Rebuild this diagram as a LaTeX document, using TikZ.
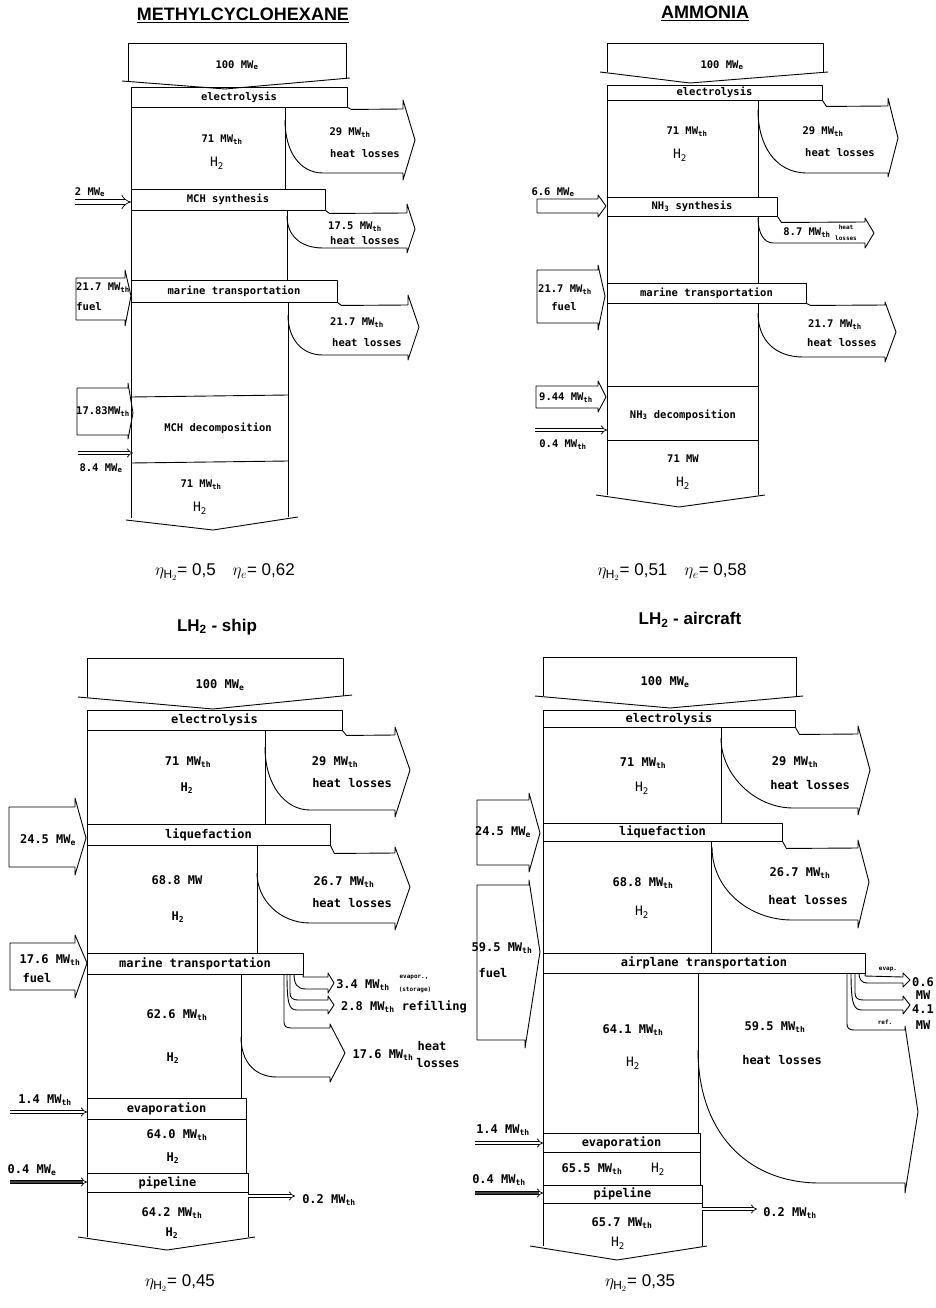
\documentclass[tikz,border=0pt]{standalone}
\usepackage{fontspec}
\setmainfont{Liberation Sans}
\setmonofont{DejaVu Sans Mono}
\usetikzlibrary{arrows.meta}

\begin{document}
\begin{tikzpicture}[x=1pt, y=-1pt, line width=0.9pt, line join=round,
    txt/.style={font=\fontsize{10.5}{12}\selectfont\ttfamily\bfseries, inner sep=0pt},
    tiny/.style={font=\fontsize{6}{7}\selectfont\ttfamily\bfseries, inner sep=0pt},
    htwo/.style={font=\fontsize{13}{14}\selectfont\ttfamily, inner sep=0pt},
    ttl/.style={font=\fontsize{18}{20}\selectfont\bfseries},
    eff/.style={font=\fontsize{17}{19}\selectfont},
    bar/.style={draw, txt, inner sep=0pt},
    pipe/.style={double, double distance=2.4pt, line width=0.7pt, -{Implies}},
    darkpipe/.style={pipe, double=black!75}
  ]
  \useasboundingbox (0,0) rectangle (935,1308);

  %% methylcyclohexane
  \node[ttl] (mttl) at (243,15) {\underline{METHYLCYCLOHEXANE}};
  \draw (122,81) -- (225,89) -- (350,78);
  \draw (128,81) -- (128,43) -- (346,43) -- (346,79);
  \node[txt] (min) at (237,65) {100 MW\textsubscript{e}};
  \node[bar, minimum width=216, minimum height=20] (mel) at (239,97) {electrolysis};
  \draw (131,107) -- (131,518);
  \draw (285,107) -- (285,189);
  \draw (287,210) -- (287,280);
  \draw (288,302) -- (288,517);
  \draw (mel.south east) -- ++(4,2) -- (403,109) -- (403,100) -- (415,140) -- (403,180)
    -- (403,173) -- (323,173) .. controls (300,173) and (285,152) .. (285,120);
  \node[txt] (mh1) at (222,140) {71 MW\textsubscript{th}};
  \node[htwo] (mh1b) at (217,163) {H\textsubscript{2}};
  \node[txt] (ml1) at (350,133) {29 MW\textsubscript{th}};
  \node[txt] (ml1b) at (365,154) {heat losses};
  \node[txt] (me1) at (90,192) {2 MW\textsubscript{e}};
  \draw[pipe, double distance=4.5pt] (75,202) -- (131,202);
  \node[bar, minimum width=194, minimum height=21] (msyn) at (228,199.5) {MCH synthesis};
  \draw (msyn.south east) -- ++(4,3) -- (407,213) -- (407,204) -- (415,229) -- (407,253)
    -- (407,248) -- (323,248) .. controls (300,248) and (287,235) .. (287,216);
  \node[txt] (ml2) at (355,227) {17.5 MW\textsubscript{th}};
  \node[txt] (ml2b) at (365,241) {heat losses};
  \draw (125,278) -- (76,278) -- (76,320) -- (125,320) -- (125,326) -- (131,296) -- (125,270) -- cycle;
  \node[txt] (mf) at (103,288) {21.7 MW\textsubscript{th}};
  \node[txt] (mfb) at (89,307) {fuel};
  \node[bar, minimum width=206, minimum height=22] (mmar) at (234,291) {marine transportation};
  \draw (mmar.south east) -- ++(4,3) -- (408,305) -- (408,295) -- (419,327) -- (408,360)
    -- (408,355) -- (323,355) .. controls (300,355) and (288,337) .. (288,315);
  \node[txt] (ml3) at (357,323) {21.7 MW\textsubscript{th}};
  \node[txt] (ml3b) at (367,343) {heat losses};
  \draw (128,388) -- (77,388) -- (77,435) -- (128,435) -- (128,439) -- (133,413) -- (128,383) -- cycle;
  \node[txt] (mq) at (103,412) {17.83MW\textsubscript{th}};
  \draw (131,397) -- (288,395);
  \draw (131,463) -- (288,461);
  \node[txt] (mdec) at (218,428) {MCH decomposition};
  \draw[pipe] (78,453) -- (133,453);
  \node[txt] (me2) at (101,468) {8.4 MW\textsubscript{e}};
  \node[txt] (mout) at (201,485) {71 MW\textsubscript{th}};
  \node[htwo] (moutb) at (200,508) {H\textsubscript{2}};
  \draw (126,520) -- (213,530) -- (298,517);
  \node[eff] (meff) at (225,572) {$\eta_{\mathrm{H}_2}$= 0,5\quad $\eta_e$= 0,62};

  %% ammonia
  \node[ttl] (attl) at (705,13) {\underline{AMMONIA}};
  \draw (600,72) -- (690,83) -- (828,72);
  \draw (607,72) -- (607,43) -- (823,43) -- (823,72);
  \node[txt] (ain) at (722,65) {100 MW\textsubscript{e}};
  \node[bar, minimum width=215, minimum height=15] (ael) at (714.5,92.5) {electrolysis};
  \draw (607,100) -- (607,495);
  \draw (758,100) -- (758,197);
  \draw (758,216) -- (758,283);
  \draw (758,303) -- (758,495);
  \draw (ael.south east) -- ++(4,6) -- (888,106) -- (888,98) -- (898,138) -- (888,177)
    -- (888,173) -- (807,173) .. controls (775,173) and (758,145) .. (758,110);
  \node[txt] (ah1) at (687,132) {71 MW\textsubscript{th}};
  \node[htwo] (ah1b) at (680,155) {H\textsubscript{2}};
  \node[txt] (al1) at (823,132) {29 MW\textsubscript{th}};
  \node[txt] (al1b) at (840,153) {heat losses};
  \node[txt] (ae1) at (553,192) {6.6 MW\textsubscript{e}};
  \draw (598,199) -- (537,199) -- (537,213) -- (598,213) -- (598,217) -- (606,206) -- (598,195) -- cycle;
  \node[bar, minimum width=170, minimum height=19] (asyn) at (692,206.5) {NH\textsubscript{3} synthesis};
  \draw (asyn.south east) -- ++(4,6) -- (865,222) -- (865,218) -- (874,233) -- (865,248)
    -- (865,243) -- (773,243) .. controls (764,243) and (758,233) .. (758,218);
  \node[txt] (al2) at (807,233) {8.7 MW\textsubscript{th}};
  \node[tiny] (al2b) at (846,227) {heat};
  \node[tiny] (al2c) at (846,238) {losses};
  \draw (598,270) -- (537,270) -- (537,323) -- (598,323) -- (598,330) -- (605,296) -- (598,265) -- cycle;
  \node[txt] (af) at (565,290) {21.7 MW\textsubscript{th}};
  \node[txt] (afb) at (564,307) {fuel};
  \node[bar, minimum width=199, minimum height=20] (amar) at (706.5,293) {marine transportation};
  \draw (amar.south east) -- ++(4,2) -- (885,305) -- (885,302) -- (896,332) -- (885,362)
    -- (885,357) -- (803,357) .. controls (775,357) and (758,340) .. (758,313);
  \node[txt] (al3) at (835,325) {21.7 MW\textsubscript{th}};
  \node[txt] (al3b) at (842,343) {heat losses};
  \draw (607,386) -- (758,386);
  \draw (607,440) -- (758,440);
  \draw (598,386) -- (536,386) -- (536,408) -- (598,408) -- (598,412) -- (606,397) -- (598,381) -- cycle;
  \node[txt] (aq) at (566,398) {9.44 MW\textsubscript{th}};
  \draw[pipe] (535,430) -- (607,430);
  \node[txt] (ae2) at (563,445) {0.4 MW\textsubscript{th}};
  \node[txt] (adec) at (683,415) {NH\textsubscript{3} decomposition};
  \node[txt] (aout) at (683,459) {71 MW};
  \node[htwo] (aoutb) at (683,483) {H\textsubscript{2}};
  \draw (596,495) -- (679,507) -- (765,495);
  \node[eff] (aeff) at (672,572) {$\eta_{\mathrm{H}_2}$= 0,51\quad $\eta_e$= 0,58};

  %% LH2 ship
  \begin{scope}[txt/.style={font=\fontsize{12}{13}\selectfont\ttfamily\bfseries, inner sep=0pt}]
  \node[eff, font=\fontsize{17}{19}\selectfont\bfseries] (sttl) at (217,627) {LH\textsubscript{2} - ship};
  \draw (78,697) -- (213,709) -- (352,695);
  \draw (87,697) -- (87,658) -- (343,658) -- (343,696);
  \node[txt] (sin) at (220,685) {100 MW\textsubscript{e}};
  \node[bar, minimum width=255, minimum height=20] (sel) at (214.5,720) {electrolysis};
  \draw (87,730) -- (87,1237);
  \draw (265,730) -- (265,824);
  \draw (257,845) -- (257,953);
  \draw (241,974) -- (241,1098);
  \draw (246,1119) -- (246,1173);
  \draw (248,1192) -- (248,1237);
  \draw (sel.south east) -- ++(4,5) -- (395,735) -- (395,727) -- (410,770) -- (395,817)
    -- (395,810) -- (310,810) .. controls (285,810) and (265,785) .. (265,747);
  \node[txt] (sh1) at (188,762) {71 MW\textsubscript{th}};
  \node[txt] (sh1b) at (187,788) {H\textsubscript{2}};
  \node[txt] (sl1) at (335,762) {29 MW\textsubscript{th}};
  \node[txt] (sl1b) at (352,783) {heat losses};
  \draw (75,807) -- (9,807) -- (9,867) -- (75,867) -- (75,875) -- (86,838) -- (75,798) -- cycle;
  \node[txt] (se1) at (48,840) {24.5 MW\textsubscript{e}};
  \node[bar, minimum width=243, minimum height=21] (sliq) at (208.5,834.5) {liquefaction};
  \draw (sliq.south east) -- ++(4,8) -- (395,853) -- (395,847) -- (410,887) -- (395,930)
    -- (395,923) -- (310,923) .. controls (280,923) and (257,900) .. (257,873);
  \node[txt] (sh2) at (177,880) {68.8 MW};
  \node[txt] (sh2b) at (178,917) {H\textsubscript{2}};
  \node[txt] (sl2) at (344,882) {26.7 MW\textsubscript{th}};
  \node[txt] (sl2b) at (352,903) {heat losses};
  \draw (75,943) -- (10,943) -- (10,990) -- (75,990) -- (75,998) -- (87,963) -- (75,935) -- cycle;
  \node[txt] (sf) at (50,960) {17.6 MW\textsubscript{th}};
  \node[txt] (sfb) at (37,978) {fuel};
  \node[bar, minimum width=216, minimum height=21] (smar) at (195,963.5) {marine transportation};
  \draw (smar.south east) -- (303,977) -- (328,977) -- (328,973) -- (334,983) -- (328,993)
    -- (328,989) -- (306,989) .. controls (297,989) and (294,984) .. (294,974);
  \draw (290,974) -- (290,993) .. controls (290,998) and (293,1000) .. (298,1000) -- (328,1000)
    -- (328,996) -- (334,1005) -- (328,1014) -- (328,1010) -- (297,1010)
    .. controls (289,1010) and (287,1004) .. (287,974);
  \draw (284,974) -- (284,1022) .. controls (284,1026) and (286,1028) .. (291,1028) -- (330,1028)
    -- (330,1024) -- (345,1053) -- (330,1082) -- (330,1077) -- (277,1077)
    .. controls (255,1077) and (241,1062) .. (241,1037);
  \node[txt] (sl3) at (363,985) {3.4 MW\textsubscript{th}};
  \node[tiny] (sl3b) at (414,977) {evapor.,};
  \node[tiny] (sl3c) at (415,990) {(storage)};
  \node[txt] (sl4) at (404,1007) {2.8 MW\textsubscript{th} refilling};
  \node[txt] (sl5) at (383,1055) {17.6 MW\textsubscript{th}};
  \node[txt] (sl5b) at (432,1046) {heat};
  \node[txt] (sl5c) at (438,1063) {losses};
  \node[txt] (sh3) at (177,1015) {62.6 MW\textsubscript{th}};
  \node[txt] (sh3b) at (173,1058) {H\textsubscript{2}};
  \draw[pipe] (10,1112) -- (87,1112);
  \node[txt] (se2) at (45,1100) {1.4 MW\textsubscript{th}};
  \node[bar, minimum width=159, minimum height=21] (sevp) at (166.5,1108.5) {evaporation};
  \node[txt] (sh4) at (177,1135) {64.0 MW\textsubscript{th}};
  \node[txt] (sh4b) at (173,1158) {H\textsubscript{2}};
  \draw[darkpipe] (10,1182) -- (87,1182);
  \node[txt] (se3) at (32,1170) {0.4 MW\textsubscript{e}};
  \node[bar, minimum width=161, minimum height=19] (spip) at (167.5,1182.5) {pipeline};
  \draw[pipe] (248,1196) -- (295,1196);
  \node[txt] (sl6) at (329,1200) {0.2 MW\textsubscript{th}};
  \node[txt] (sout) at (172,1213) {64.2 MW\textsubscript{th}};
  \node[txt] (soutb) at (172,1233) {H\textsubscript{2}};
  \draw (78,1237) -- (167,1250) -- (255,1237);
  \node[eff] (seff) at (180,1283) {$\eta_{\mathrm{H}_2}$= 0,45};
  \end{scope}

  %% LH2 aircraft
  \begin{scope}[txt/.style={font=\fontsize{12}{13}\selectfont\ttfamily\bfseries, inner sep=0pt}]
  \node[eff, font=\fontsize{17}{19}\selectfont\bfseries] (pttl) at (690,620) {LH\textsubscript{2} - aircraft};
  \draw (535,696) -- (670,708) -- (803,696);
  \draw (543,696) -- (543,657) -- (796,657) -- (796,696);
  \node[txt] (pin) at (665,682) {100 MW\textsubscript{e}};
  \node[bar, minimum width=252, minimum height=17] (pel) at (669,718.5) {electrolysis};
  \draw (543,727) -- (543,1246);
  \draw (721,727) -- (721,823);
  \draw (711,841) -- (711,953);
  \draw (698,973) -- (698,1133);
  \draw (700,1152) -- (700,1185);
  \draw (702,1203) -- (702,1246);
  \draw (pel.south east) -- ++(4,7) -- (858,734) -- (858,726) -- (870,770) -- (858,815)
    -- (858,808) -- (793,808) .. controls (755,808) and (721,775) .. (721,738);
  \node[txt] (ph1) at (643,763) {71 MW\textsubscript{th}};
  \node[htwo] (ph1b) at (642,788) {H\textsubscript{2}};
  \node[txt] (pl1) at (795,762) {29 MW\textsubscript{th}};
  \node[txt] (pl1b) at (810,785) {heat losses};
  \draw (529,800) -- (477,800) -- (477,865) -- (529,865) -- (529,872) -- (540,833) -- (529,793) -- cycle;
  \node[txt] (pe1) at (503,832) {24.5 MW\textsubscript{e}};
  \node[bar, minimum width=239, minimum height=18] (pliq) at (662.5,832) {liquefaction};
  \draw (pliq.south east) -- ++(4,7) -- (858,848) -- (858,840) -- (869,882) -- (858,928)
    -- (858,920) -- (792,920) .. controls (750,920) and (712,890) .. (712,847);
  \node[txt] (ph2) at (643,883) {68.8 MW\textsubscript{th}};
  \node[htwo] (ph2b) at (642,912) {H\textsubscript{2}};
  \node[txt] (pl2) at (800,873) {26.7 MW\textsubscript{th}};
  \node[txt] (pl2b) at (808,900) {heat losses};
  \draw (529,885) -- (477,885) -- (477,1040) -- (525,1040) -- (525,1048) -- (540,952) -- (529,880) -- cycle;
  \node[txt] (pf) at (502,948) {59.5 MW\textsubscript{th}};
  \node[txt] (pfb) at (493,973) {fuel};
  \node[bar, minimum width=322, minimum height=20] (pair) at (704,963) {airplane transportation};
  \draw (pair.south east) -- (865,976) -- (903,977) -- (903,973) -- (910,980) -- (903,987)
    -- (903,983) -- (868,983) .. controls (861,983) and (859,979) .. (859,973);
  \draw (855,973) -- (855,993) .. controls (855,998) and (858,1000) .. (863,1000) -- (903,1000)
    -- (903,996) -- (910,1005) -- (903,1014) -- (903,1010) -- (862,1010)
    .. controls (854,1010) and (851,1005) .. (851,973);
  \draw (847,973) -- (847,1024) .. controls (847,1028) and (849,1030) .. (854,1030) -- (905,1030)
    -- (905,1026) -- (918,1112) -- (905,1193) -- (905,1183) -- (820,1183)
    .. controls (745,1183) and (698,1130) .. (698,1050);
  \node[tiny] (pl3b) at (888,969) {evap.};
  \node[txt] (pl3) at (923,982) {0.6};
  \node[txt] (pl3c) at (923,995) {MW};
  \node[tiny] (pl4b) at (885,1022) {ref.};
  \node[txt] (pl4) at (923,1009) {4.1};
  \node[txt] (pl4c) at (923,1025) {MW};
  \node[txt] (pl5) at (775,1027) {59.5 MW\textsubscript{th}};
  \node[txt] (pl5b) at (782,1060) {heat losses};
  \node[txt] (ph3) at (633,1030) {64.1 MW\textsubscript{th}};
  \node[htwo] (ph3b) at (633,1063) {H\textsubscript{2}};
  \draw[pipe] (475,1143) -- (543,1143);
  \node[txt] (pe2) at (503,1130) {1.4 MW\textsubscript{th}};
  \node[bar, minimum width=157, minimum height=19] (pevp) at (621.5,1142.5) {evaporation};
  \node[txt] (ph4) at (592,1169) {65.5 MW\textsubscript{th}};
  \node[htwo] (ph4b) at (658,1169) {H\textsubscript{2}};
  \draw[darkpipe] (475,1193) -- (543,1193);
  \node[txt] (pe3) at (499,1180) {0.4 MW\textsubscript{th}};
  \node[bar, minimum width=159, minimum height=18] (ppip) at (622.5,1194) {pipeline};
  \draw[pipe] (702,1209) -- (757,1209);
  \node[txt] (pl6) at (790,1213) {0.2 MW\textsubscript{th}};
  \node[txt] (pout) at (622,1223) {65.7 MW\textsubscript{th}};
  \node[htwo] (poutb) at (618,1243) {H\textsubscript{2}};
  \draw (530,1246) -- (617,1260) -- (707,1246);
  \node[eff] (peff) at (640,1283) {$\eta_{\mathrm{H}_2}$= 0,35};
  \end{scope}
\end{tikzpicture}
\end{document}
